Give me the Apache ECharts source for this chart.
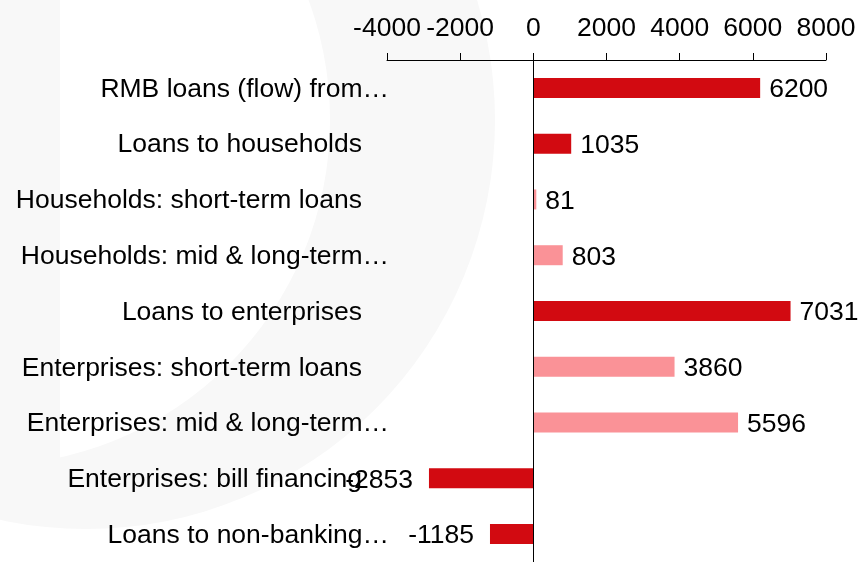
<!DOCTYPE html>
<html>
<head>
<meta charset="utf-8">
<script src="https://cdn.jsdelivr.net/npm/echarts@6/dist/echarts.min.js"></script>
<style>
  html, body { margin: 0; padding: 0; background: #ffffff; }
  #chart { width: 862px; height: 562px; }
</style>
</head>
<body>
<div id="chart"></div>
<script>
// Category labels, top to bottom
const categories = [
  'RMB loans (flow) from…',
  'Loans to households',
  'Households: short-term loans',
  'Households: mid & long-term…',
  'Loans to enterprises',
  'Enterprises: short-term loans',
  'Enterprises: mid & long-term…',
  'Enterprises: bill financing',
  'Loans to non-banking…'
];
// Flow values
const values = [6200, 1035, 81, 803, 7031, 3860, 5596, -2853, -1185];
// Aggregate rows use the dark red, sub-items the light red
const isSubItem = [false, false, true, true, false, true, true, false, false];
const xTicks = [-4000, -2000, 0, 2000, 4000, 6000, 8000];

const DARK = '#D20A11';
const LIGHT = '#FA9297';
const FONT = 'Liberation Sans, Arial, sans-serif';
const FS = 26.5;
const MARK = '#f8f8f8';

const seriesData = values.map((v, i) => ({
  value: v,
  itemStyle: { color: isSubItem[i] ? LIGHT : DARK },
  label: v < 0 ? { position: 'left', distance: 16 } : { position: 'right', distance: 9 }
}));

const chart = echarts.init(document.getElementById('chart'), null, { renderer: 'canvas' });
chart.setOption({
  animation: false,
  backgroundColor: '#ffffff',
  // faint background logo: a crescent plus a vertical bar
  graphic: [
    { type: 'circle', z: -12, silent: true, shape: { cx: 86, cy: 120, r: 409 }, style: { fill: MARK } },
    { type: 'circle', z: -11, silent: true, shape: { cx: -16, cy: 120, r: 346 }, style: { fill: '#ffffff' } },
    { type: 'rect', z: -10, silent: true, shape: { x: 0, y: 0, width: 60, height: 505 }, style: { fill: MARK } }
  ],
  grid: { left: 387, right: 36, top: 60, height: 507, containLabel: false },
  xAxis: {
    type: 'value',
    position: 'top',
    min: xTicks[0],
    max: xTicks[xTicks.length - 1],
    interval: 2000,
    axisLine: { show: true, onZero: false, lineStyle: { color: '#000', width: 1 } },
    axisTick: { show: true, inside: false, length: 7, lineStyle: { color: '#000', width: 1 } },
    axisLabel: {
      color: '#000', fontSize: FS, fontFamily: FONT, margin: 18,
      showMinLabel: true, showMaxLabel: true, hideOverlap: false,
      formatter: (v) => String(v)
    },
    splitLine: { show: false }
  },
  yAxis: {
    type: 'category',
    data: categories,
    inverse: true,
    axisLine: { show: false },
    axisTick: { show: false },
    axisLabel: {
      color: '#000',
      fontSize: FS,
      fontFamily: FONT,
      margin: -2,
      formatter: (t) => t.endsWith('…') ? '{e|' + t + '}' : '{n|' + t + '}',
      rich: {
        e: { fontSize: FS, fontFamily: FONT, color: '#000', padding: [3, 0, 0, 0] },
        n: { fontSize: FS, fontFamily: FONT, color: '#000', padding: [3, 27, 0, 0] }
      }
    }
  },
  series: [{
    type: 'bar',
    data: seriesData,
    barWidth: 20,
    label: { show: true, color: '#000', fontSize: FS, fontFamily: FONT, offset: [0, 2] },
    markLine: {
      silent: true,
      symbol: 'none',
      label: { show: false },
      lineStyle: { color: '#000', width: 1, type: 'solid' },
      data: [{ xAxis: 0 }]
    }
  }]
});
</script>
</body>
</html>
